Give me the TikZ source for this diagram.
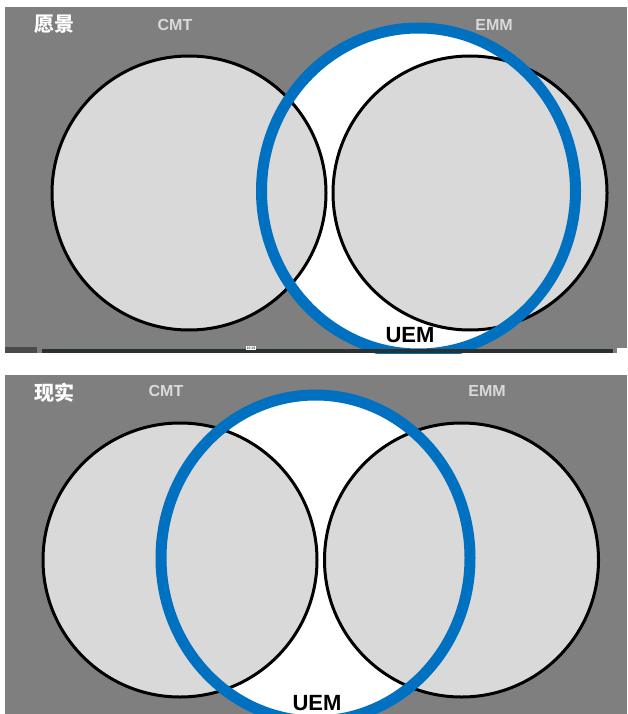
\documentclass[tikz,border=0pt]{standalone}
\usepackage{fontspec}
\setmainfont{Liberation Sans}
\newfontfamily\cjk{Noto Sans CJK SC}
\definecolor{panelgray}{HTML}{7F7F7F}
\definecolor{fillgray}{HTML}{D9D9D9}
\definecolor{ringblue}{HTML}{0070C0}
\definecolor{bardark}{HTML}{2B3133}
\definecolor{boxdark}{HTML}{4A4A4A}
\begin{document}
\begin{tikzpicture}[x=1pt,y=-1pt,
  setcircle/.style={fill=fillgray,draw=black,line width=3pt},
  ring/.style={draw=ringblue,line width=11pt},
  settitle/.style={font=\bfseries\fontsize{16}{16}\selectfont,text=fillgray,inner sep=0pt},
  paneltitle/.style={font=\cjk\bfseries\fontsize{20}{20}\selectfont,text=white,inner sep=0pt},
  uemlabel/.style={font=\bfseries\fontsize{22}{22}\selectfont,text=black,inner sep=0pt}]
\useasboundingbox (0,0) rectangle (627,714);
\fill[white] (0,0) rectangle (627,714);
% ---------- top panel ----------
\fill[panelgray] (5,7) rectangle (627,353);
\begin{scope}
  \clip (5,7) rectangle (627,353);
  \fill[white] (418.5,191) ellipse[x radius=157pt,y radius=163pt];
  \draw[setcircle] (189,193) circle[radius=137pt];
  \draw[setcircle] (470,193) circle[radius=137pt];
  \draw[ring] (418.5,191) ellipse[x radius=157pt,y radius=163pt];
\end{scope}
\node[paneltitle] (t1) at (54,24) {愿景};
\node[settitle] (cmt1) at (175,25) {CMT};
\node[settitle] (emm1) at (494,25) {EMM};
\node[uemlabel] (uem1) at (410,335) {UEM};
% progress bar
\fill[boxdark] (5,347) rectangle (37,353);
\fill[bardark] (42,349) rectangle (613,353);
\fill[white] (617,348) rectangle (627,353);
\node[fill=white,inner sep=0.6pt,font=\fontsize{3.5}{3.5}\selectfont] (time) at (251,348) {16:19};
% ---------- bottom panel ----------
\fill[panelgray] (5,375) rectangle (627,714);
\begin{scope}
  \clip (5,375) rectangle (627,714);
  \fill[white] (315.5,558) ellipse[x radius=154.5pt,y radius=163pt];
  \draw[setcircle] (180,560) circle[radius=137pt];
  \draw[setcircle] (461.5,560) circle[radius=137pt];
  \draw[ring] (315.5,558) ellipse[x radius=154.5pt,y radius=163pt];
\end{scope}
\node[paneltitle] (t2) at (54,393) {现实};
\node[settitle] (cmt2) at (166,391) {CMT};
\node[settitle] (emm2) at (487,391) {EMM};
\node[uemlabel] (uem2) at (317,703) {UEM};
\end{tikzpicture}
\end{document}
